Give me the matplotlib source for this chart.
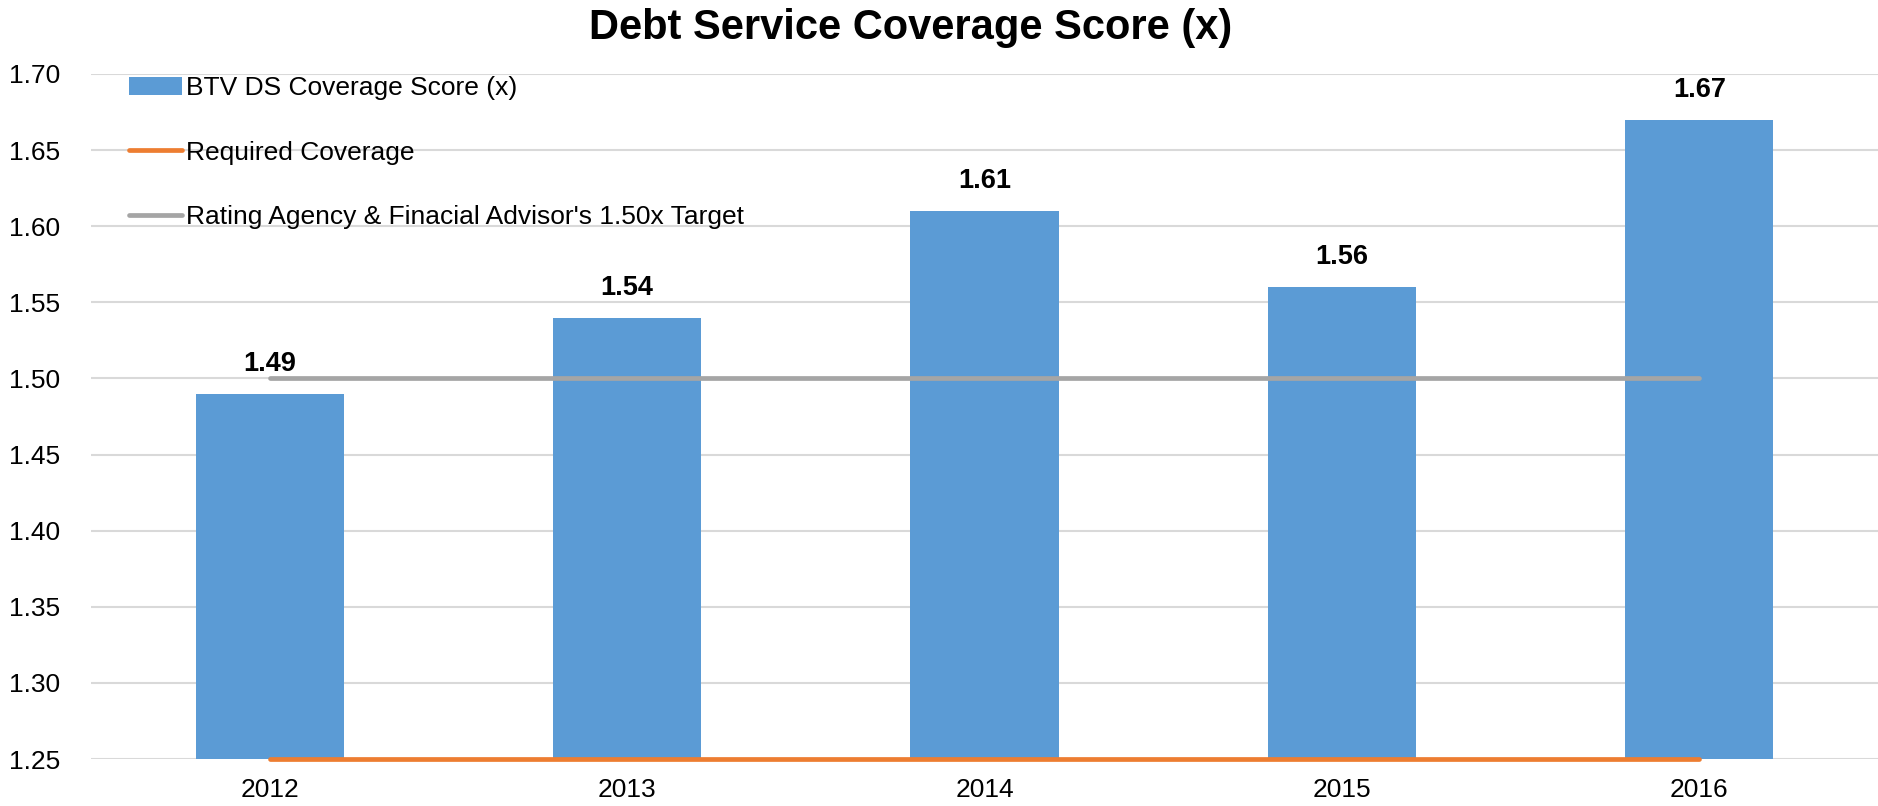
import numpy as np
import matplotlib.pyplot as plt

years = ['2012', '2013', '2014', '2015', '2016']
score = [1.49, 1.54, 1.61, 1.56, 1.67]
required = [1.25, 1.25, 1.25, 1.25, 1.25]
target = [1.50, 1.50, 1.50, 1.50, 1.50]
yticks = [1.25, 1.30, 1.35, 1.40, 1.45, 1.50, 1.55, 1.60, 1.65, 1.70]

plt.rcParams['font.family'] = ['Liberation Sans', 'DejaVu Sans']

fig = plt.figure(figsize=(18.78, 8.06), dpi=100)
ax = fig.add_axes([0.0485, 0.0583, 0.9515, 0.8499])

x = np.arange(len(years))
bars = ax.bar(x, score, width=0.415, color='#5B9BD5', zorder=2,
              label='BTV DS Coverage Score (x)')
l1, = ax.plot(x, required, color='#ED7D31', lw=3.4, zorder=3, solid_capstyle='round',
              label='Required Coverage', clip_on=False)
l2, = ax.plot(x, target, color='#A5A5A5', lw=3.4, zorder=3, solid_capstyle='round',
              label="Rating Agency & Finacial Advisor's 1.50x Target")

for xi, v in zip(x, score):
    ax.text(xi, v + 0.011, '%.2f' % v, ha='center', va='bottom',
            fontsize=19.5, fontweight='bold')

ax.set_xlim(-0.5, len(years) - 0.5)
ax.set_ylim(1.25, 1.70)
ax.set_yticks(yticks)
ax.set_yticklabels(['%.2f' % t for t in yticks])
ax.set_xticks(x)
ax.set_xticklabels(years)
ax.tick_params(axis='both', length=0, labelsize=19, colors='#000000')
ax.tick_params(axis='y', pad=22)
ax.tick_params(axis='x', pad=14)
ax.grid(axis='y', color='#D9D9D9', lw=1.5, zorder=0)
ax.set_axisbelow(True)
for s in ax.spines.values():
    s.set_visible(False)

ax.legend(handles=[bars, l1, l2], loc='upper left', bbox_to_anchor=(0.0155, 1.012),
          frameon=False, fontsize=19, labelspacing=1.53, handlelength=2.0,
          handletextpad=0.15, borderaxespad=0.0)

fig.suptitle('Debt Service Coverage Score (x)', fontsize=30, fontweight='bold',
             y=0.99, x=0.485)

fig.savefig('out.png', dpi=100)
